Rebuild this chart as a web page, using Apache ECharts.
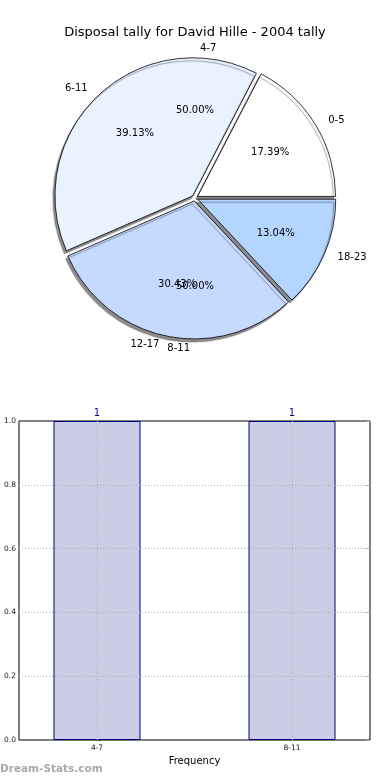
<!DOCTYPE html>
<html><head><meta charset="utf-8">
<script src="https://cdn.jsdelivr.net/npm/echarts@6/dist/echarts.min.js"></script>
<style>html,body{margin:0;padding:0;background:#fff}#c{width:390px;height:780px}</style>
</head><body><div id="c"></div>
<script>
const titleText = 'Disposal tally for David Hille - 2004 tally';
const pieCats = ['0-5', '6-11', '12-17', '18-23'];
const pieValues = [4, 9, 7, 3];
const pieColors = ['#ffffff', '#eaf1ff', '#c6d9ff', '#b4d5ff'];
const pie2Cats = ['4-7', '8-11'];
const pie2Values = [1, 1];
const barCats = ['4-7', '8-11'];
const barValues = [1, 1];
const barPos = [0, 1];
const yTicks = [0.2, 0.4, 0.6, 0.8];
const FONT = 'DejaVu Sans';

const C = [195, 198];
const R = 138;
const sum = a => a.reduce((s, v) => s + v, 0);
const pctOf = total => p => (p.value / total * 100).toFixed(2) + '%';

const mainData = pieCats.map((n, i) => ({name: n, value: pieValues[i], selected: true,
  itemStyle: {color: pieColors[i]}}));
const ghost = {color: 'rgba(0,0,0,0)', borderWidth: 0};
const ghostData = (cats, vals) => cats.map((n, i) => ({name: n, value: vals[i]}));

const dotted = {color: '#b0b0b0', type: [1, 2], width: 1};
const markLines = yTicks.map(v => ({yAxis: v})).concat(barPos.map(v => ({xAxis: v})));

const ghostBase = {type: 'pie', center: C, startAngle: 0, clockwise: false, silent: true,
  avoidLabelOverlap: false, labelLayout: {hideOverlap: false},
  itemStyle: ghost, emphasis: {disabled: true}};
const pctLabel = total => ({show: true, position: 'inside', formatter: pctOf(total), fontSize: 10, color: '#000', fontFamily: FONT});
const nameLabel = {show: true, position: 'outside', formatter: '{b}', fontSize: 10, color: '#000', fontFamily: FONT, alignTo: 'none'};
const nameLine = {show: false, length: 12, length2: 0};

const chart = echarts.init(document.getElementById('c'), null, {renderer: 'canvas'});
chart.setOption({
  animation: false,
  textStyle: {fontFamily: FONT},
  title: {text: titleText, left: 'center', top: 21,
    textStyle: {fontSize: 13, fontWeight: 'normal', color: '#000', fontFamily: FONT}},
  graphic: [{type: 'text', left: 0, top: 764,
    style: {text: 'Dream-Stats.com', fill: '#a8a8a8', font: 'bold 10.5px ' + FONT}}],
  grid: {left: 19, top: 421, width: 351, height: 319, show: true, borderColor: '#000', borderWidth: 1},
  xAxis: {type: 'value', min: -0.4, max: 1.4,
    axisLine: {show: false}, splitLine: {show: false},
    axisTick: {show: true, customValues: barPos, inside: true, length: 4, lineStyle: {color: '#999'}},
    axisLabel: {customValues: barPos, formatter: v => barCats[Math.round(v)], fontSize: 7.5, color: '#222', margin: 4},
    name: 'Frequency', nameLocation: 'middle', nameGap: 16,
    nameTextStyle: {fontSize: 10, color: '#000', fontFamily: FONT}},
  yAxis: [{type: 'value', min: 0, max: 1, interval: 0.2,
    axisLine: {show: false}, splitLine: {show: false},
    axisTick: {show: true, inside: true, length: 4, lineStyle: {color: '#555'}},
    axisLabel: {formatter: v => v.toFixed(1), fontSize: 7.5, color: '#222', margin: 3}},
    {type: 'value', min: 0, max: 1, interval: 0.2, position: 'right',
    axisLine: {show: false}, splitLine: {show: false}, axisLabel: {show: false},
    axisTick: {show: true, inside: true, length: 4, lineStyle: {color: '#aaa'}}}],
  series: [
    {type: 'pie', center: C, radius: [0, R], startAngle: 0, clockwise: false,
     selectedMode: 'multiple', selectedOffset: 3, silent: true,
     itemStyle: {borderColor: '#000', borderWidth: 0.8,
       shadowColor: 'rgba(0,0,0,0.45)', shadowBlur: 1, shadowOffsetX: -2, shadowOffsetY: 3},
     label: {show: false}, labelLine: {show: false}, emphasis: {disabled: true},
     data: mainData},
    Object.assign({}, ghostBase, {radius: [30, R + 2], label: pctLabel(sum(pieValues)), labelLine: {show: false},
     data: ghostData(pieCats, pieValues)}),
    Object.assign({}, ghostBase, {radius: [0, R], label: nameLabel, labelLine: nameLine,
     data: ghostData(pieCats, pieValues)}),
    Object.assign({}, ghostBase, {radius: [30, R + 2], label: pctLabel(sum(pie2Values)), labelLine: {show: false},
     data: ghostData(pie2Cats, pie2Values)}),
    Object.assign({}, ghostBase, {radius: [0, R], label: nameLabel, labelLine: nameLine,
     data: ghostData(pie2Cats, pie2Values)}),
    {type: 'bar', xAxisIndex: 0, yAxisIndex: 0, barWidth: 87, silent: true,
     data: barPos.map((x, i) => [x, barValues[i]]),
     itemStyle: {color: '#ccccE5', borderColor: '#000080', borderWidth: 1},
     label: {show: true, position: 'top', color: '#000080', fontSize: 10, distance: 3, formatter: p => String(p.value[1])},
     markLine: {silent: true, symbol: 'none', label: {show: false}, lineStyle: dotted, z: 5, data: markLines}}
  ]
});
</script></body></html>
